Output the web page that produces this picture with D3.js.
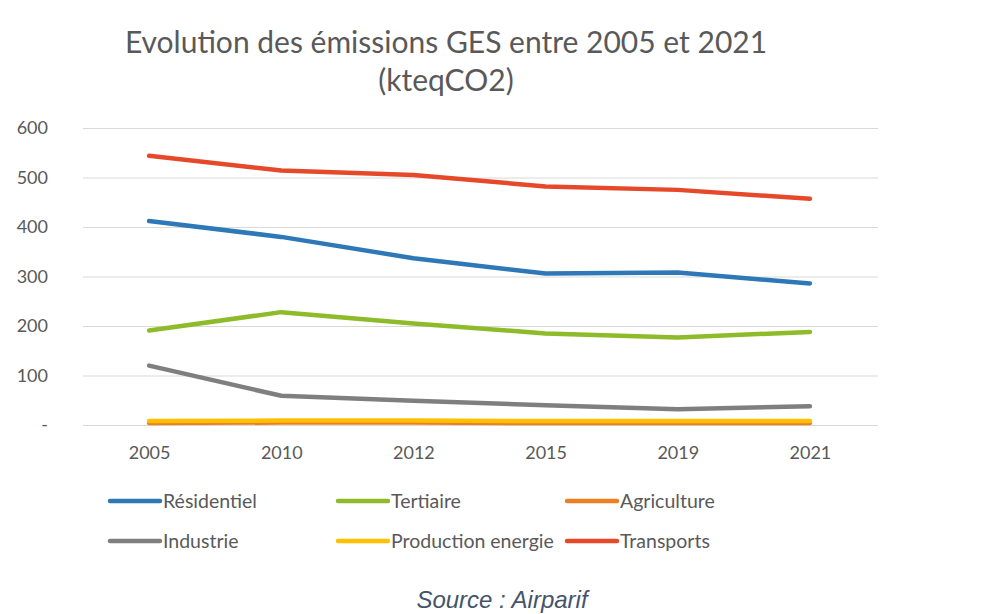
<!DOCTYPE html>
<html><head><meta charset="utf-8">
<script src="https://cdn.jsdelivr.net/npm/d3@7"></script>
<style>body{margin:0;background:#fff}svg{display:block}</style>
</head><body>
<svg id="c" width="995" height="614"></svg>
<script>
const years = ["2005","2010","2012","2015","2019","2021"];
const yTicks = [0,100,200,300,400,500,600];
const residentiel = [412,380,337,306,308,286];
const tertiaire = [191,228,205,185,177,188];
const agriculture = [4,5,5,4,4,4];
const industrie = [120,59,49,40,32,38];
const production = [8,9,9,8,8,8];
const transports = [544,514,505,482,475,457];
const seriesNames = ["Résidentiel","Tertiaire","Agriculture","Industrie","Production energie","Transports"];
const seriesValues = [residentiel,tertiaire,agriculture,industrie,production,transports];
const colors = ["#2E78B7","#8DBB2A","#EE7E22","#7F7F7F","#FFC000","#E5492A"];

const svg = d3.select("#c");
const font = "Lato, 'Open Sans', sans-serif";
const txt = "#595959";

const x = d3.scalePoint().domain(years).range([83,876]).padding(0.5);
const y = d3.scaleLinear().domain([0,600]).range([425,128]);

// title
svg.append("text").attr("x",446).attr("y",53).attr("text-anchor","middle")
  .attr("font-family",font).attr("font-size",30).attr("fill",txt)
  .text("Evolution des émissions GES entre 2005 et 2021");
svg.append("text").attr("x",446).attr("y",91).attr("text-anchor","middle")
  .attr("font-family",font).attr("font-size",30).attr("fill",txt)
  .text("(kteqCO2)");

// gridlines
const yAxis = d3.axisLeft(y).tickValues(yTicks).tickSize(-(878-83)).tickPadding(35)
  .tickFormat(d => d === 0 ? "-" : d);
const gy = svg.append("g").attr("transform","translate(83,0)").call(yAxis);
gy.select(".domain").remove();
gy.selectAll(".tick line").attr("stroke","#d9d9d9").attr("stroke-width",1);
gy.selectAll(".tick text").attr("font-family",font).attr("font-size",18).attr("fill",txt);

const xAxis = d3.axisBottom(x).tickSize(0).tickPadding(21);
const gx = svg.append("g").attr("transform","translate(0,425)").call(xAxis);
gx.select(".domain").remove();
gx.selectAll(".tick text").attr("font-family",font).attr("font-size",18).attr("fill",txt);

const line = d3.line().x((d,i)=>x(years[i])).y(d=>y(d));
seriesValues.forEach((vals,k)=>{
  svg.append("path").datum(vals).attr("d",line).attr("fill","none")
    .attr("stroke",colors[k]).attr("stroke-width",4.5)
    .attr("stroke-linejoin","round").attr("stroke-linecap","round");
});

// legend
const legX = [110,338,567];
const legY = [501,541];
seriesNames.forEach((n,k)=>{
  const lx = legX[k%3], ly = legY[Math.floor(k/3)];
  svg.append("line").attr("x1",lx).attr("x2",lx+50).attr("y1",ly).attr("y2",ly)
    .attr("stroke",colors[k]).attr("stroke-width",4.5).attr("stroke-linecap","round");
  svg.append("text").attr("x",lx+53).attr("y",ly+7).attr("font-family",font)
    .attr("font-size",19.5).attr("fill",txt).text(n);
});

svg.append("text").attr("x",502).attr("y",608).attr("text-anchor","middle")
  .attr("font-family","'Liberation Sans', Arial, sans-serif").attr("font-style","italic")
  .attr("font-size",24).attr("fill","#44546A").text("Source : Airparif");
</script>
</body></html>
